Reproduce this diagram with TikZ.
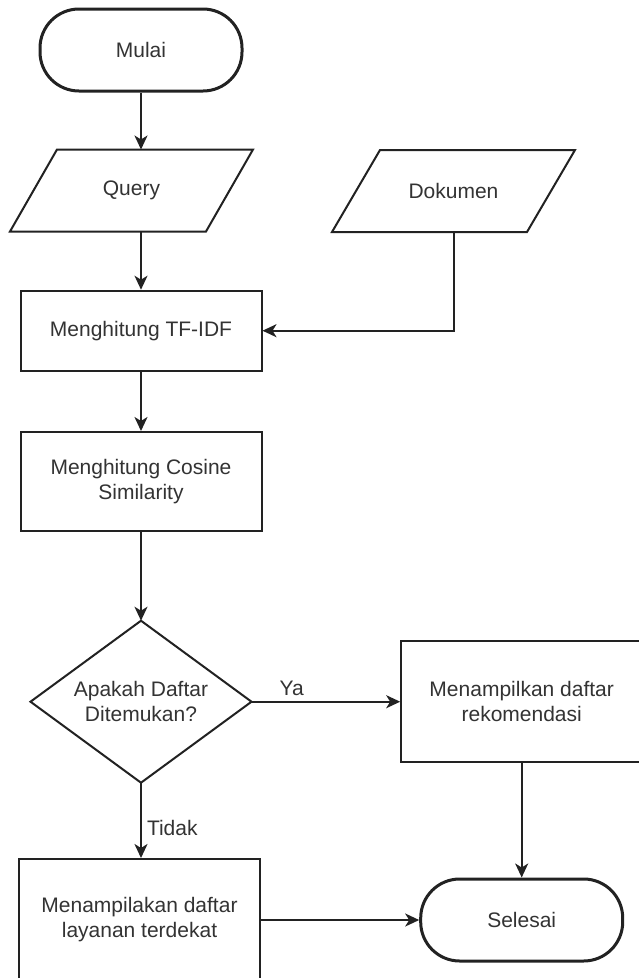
\documentclass[tikz,border=0pt]{standalone}
\usepackage{fontspec}
\setmainfont{Liberation Sans}
\usetikzlibrary{arrows.meta}

\definecolor{ink}{HTML}{222222}
\definecolor{txt}{HTML}{333333}

\tikzset{
  base/.style={draw=ink, line width=2pt, text=txt, align=center,
    font=\fontsize{21}{25}\selectfont, inner sep=0pt},
  terminal/.style={base, line width=3pt, rectangle, rounded corners=39pt,
    minimum width=202pt, minimum height=82pt},
  process/.style={base, rectangle, minimum width=241pt},
  iobox/.style={base, draw=none, rectangle, minimum width=241pt, minimum height=80pt},
  decision/.style={base, draw=none, rectangle, minimum width=219pt, minimum height=160pt},
  flow/.style={draw=ink, line width=2pt,
    -{Stealth[length=14pt,width=13pt,inset=4pt]}},
  plain/.style={draw=ink, line width=2pt, line join=miter},
  lbl/.style={text=txt, font=\fontsize{21}{25}\selectfont, inner sep=0pt}
}

\begin{document}
\begin{tikzpicture}[x=1pt,y=-1pt]
  \useasboundingbox (0,0) rectangle (639,978);
  \clip (0,0) rectangle (639,978);
  \fill[white] (0,0) rectangle (639,978);

  % start / end terminals
  \node[terminal] (mulai) at (141,50) {Mulai};
  \node[terminal] (selesai) at (521.7,920) {Selesai};

  % input parallelograms
  \node[iobox] (query) at (131.5,190.5) {Query};
  \draw[plain] ([xshift=47pt]query.north west) -- (query.north east)
    -- ([xshift=-47pt]query.south east) -- (query.south west) -- cycle;
  \node[iobox] (dokumen) at (453.5,191) {Dokumen};
  \draw[plain] ([xshift=48pt]dokumen.north west) -- (dokumen.north east)
    -- ([xshift=-48pt]dokumen.south east) -- (dokumen.south west) -- cycle;

  % processing steps
  \node[process, minimum height=80pt] (tfidf) at (141,330.7) {Menghitung TF-IDF};
  \node[process, minimum height=99pt] (cosine) at (141,481.5) {Menghitung Cosine\\Similarity};

  % decision
  \node[decision] (cek) at (141,701.7) {Apakah Daftar\\Ditemukan?};
  \draw[plain] (cek.north) -- (cek.east) -- (cek.south) -- (cek.west) -- cycle;

  \node[process, minimum height=121pt] (rekom) at (521.7,701.3) {Menampilkan daftar\\rekomendasi};
  \node[process, minimum height=122pt] (layanan) at (139.5,920) {Menampilakan daftar\\layanan terdekat};

  % connectors
  \draw[flow] (mulai.south) -- (mulai.south |- query.north);
  \draw[flow] (mulai.south |- query.south) -- (tfidf.north);
  \draw[flow] (dokumen.south) -- (dokumen.south |- tfidf.east) -- (tfidf.east);
  \draw[flow] (tfidf.south) -- (cosine.north);
  \draw[flow] (cosine.south) -- (cek.north);
  \draw[flow] (cek.east) -- (cek.east -| rekom.west)
    node[lbl, pos=0.27, above=5pt] {Ya};
  \draw[flow] (cek.south) -- (cek.south |- layanan.north)
    node[lbl, pos=0.6, right=5pt] {Tidak};
  \draw[flow] (rekom.south) -- (selesai.north);
  \draw[flow] (layanan.east) -- (selesai.west);
\end{tikzpicture}
\end{document}
